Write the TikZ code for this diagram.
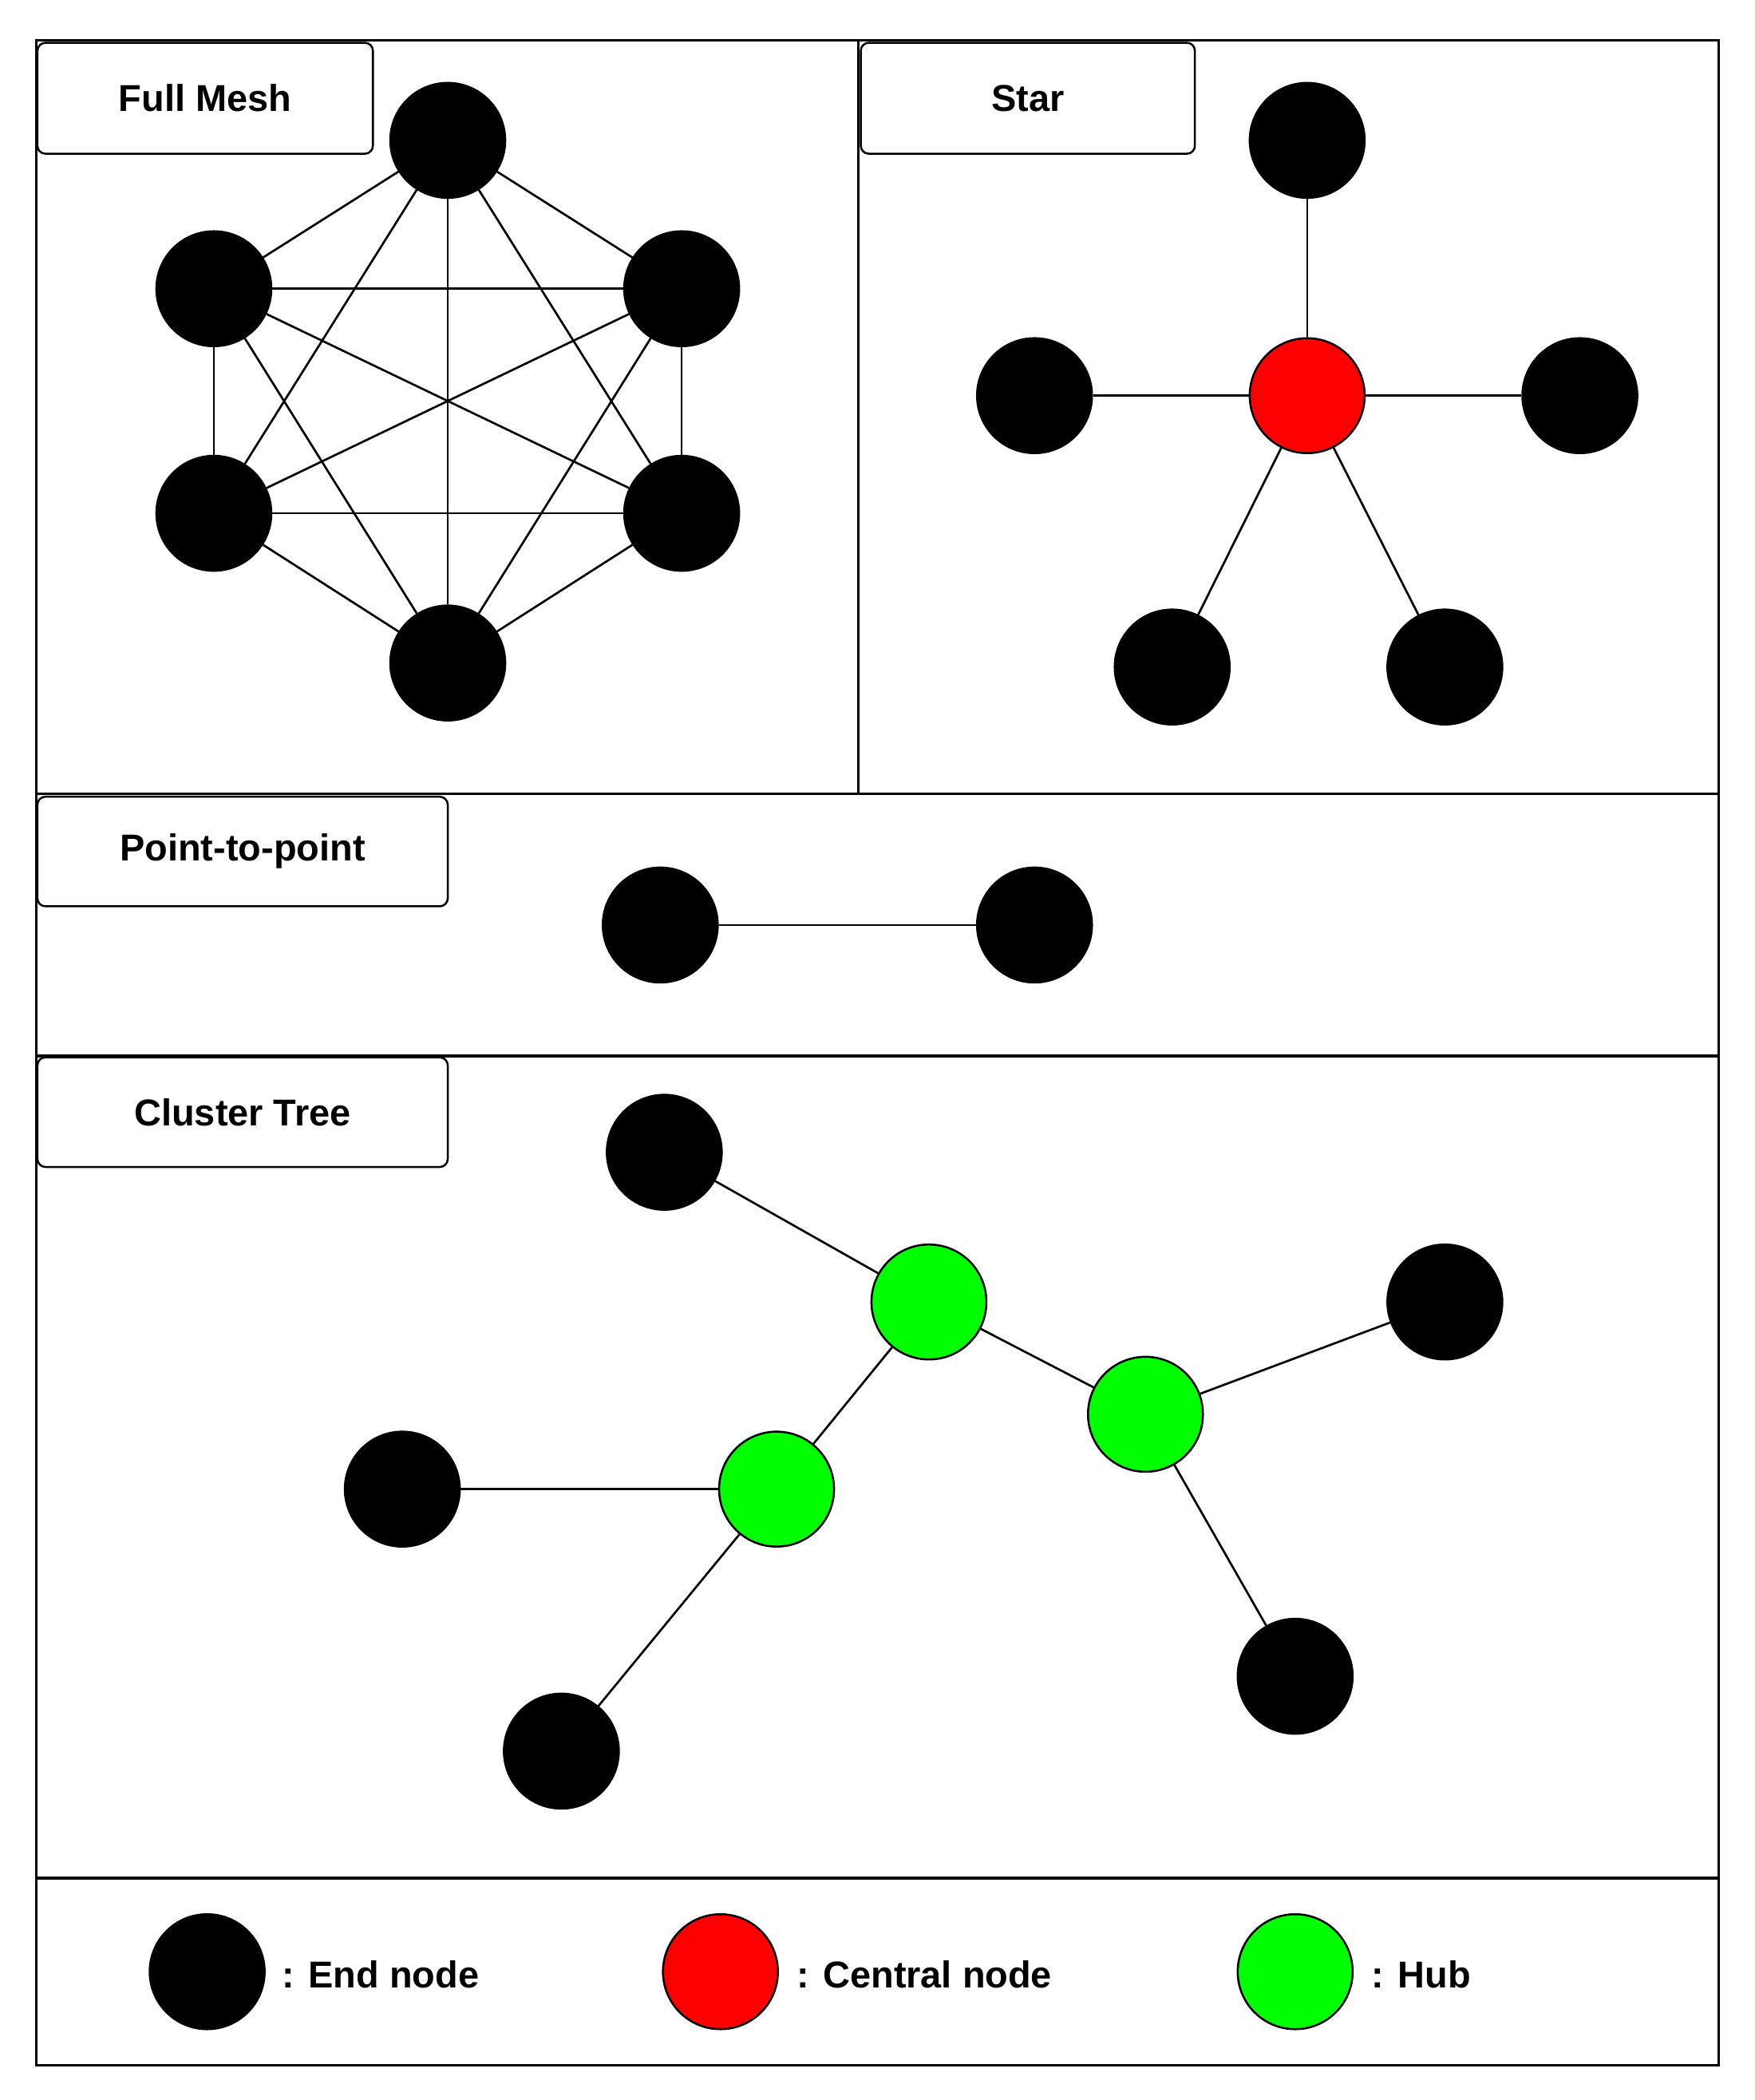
\documentclass[tikz,border=0pt]{standalone}
\usepackage{fontspec}
\setmainfont{Liberation Sans}
\begin{document}
\begin{tikzpicture}[x=1pt,y=-1pt,
 nd/.style={circle,draw=black,line width=1.5pt,minimum size=86pt,inner sep=0pt},
 en/.style={nd,fill=black},
 cn/.style={nd,fill=red},
 hb/.style={nd,fill=green},
 lbl/.style={draw,rounded corners=6pt,line width=1.5pt,fill=white,font=\fontsize{28}{32}\selectfont\bfseries,inner sep=0pt},
 ed/.style={line width=1.6pt},
 fr/.style={line width=2pt}]
\useasboundingbox (0,0) rectangle (1313,1571);
\draw[fr] (27,30) rectangle (1286,1545);
\draw[fr] (642,30) -- (642,594);
\draw[fr] (27,594) -- (1286,594);
\draw[fr] (27,790) -- (1286,790);
\draw[fr] (27,1405) -- (1286,1405);
% labels
\node[lbl,minimum width=251pt,minimum height=83pt] (l1) at (153.5,73.5) {Full Mesh};
\node[lbl,minimum width=250pt,minimum height=83pt] (l2) at (769,73.5) {Star};
\node[lbl,minimum width=307pt,minimum height=82pt] (l3) at (181.5,637) {Point-to-point};
\node[lbl,minimum width=307pt,minimum height=82pt] (l4) at (181.5,832) {Cluster Tree};
% mesh
\node[en] (m1) at (335,105) {};
\node[en] (m2) at (160,216) {};
\node[en] (m3) at (510,216) {};
\node[en] (m4) at (160,384) {};
\node[en] (m5) at (510,384) {};
\node[en] (m6) at (335,496) {};
\foreach \a/\b in {m1/m2,m1/m3,m1/m4,m1/m5,m1/m6,m2/m3,m2/m4,m2/m5,m2/m6,m3/m4,m3/m5,m3/m6,m4/m5,m4/m6,m5/m6}
  \draw[ed] (\a) -- (\b);
% star
\node[cn] (s0) at (978,296) {};
\node[en] (s1) at (978,105) {};
\node[en] (s2) at (774,296) {};
\node[en] (s3) at (1182,296) {};
\node[en] (s4) at (877,499) {};
\node[en] (s5) at (1081,499) {};
\foreach \b in {s1,s2,s3,s4,s5} \draw[ed] (s0) -- (\b);
% p2p
\node[en] (p1) at (494,692) {};
\node[en] (p2) at (774,692) {};
\draw[ed] (p1) -- (p2);
% cluster
\node[hb] (h1) at (695,974) {};
\node[hb] (h2) at (857,1058) {};
\node[hb] (h3) at (581,1114) {};
\node[en] (c1) at (497,862) {};
\node[en] (c2) at (1081,974) {};
\node[en] (c3) at (969,1254) {};
\node[en] (c4) at (301,1114) {};
\node[en] (c5) at (420,1310) {};
\foreach \a/\b in {h1/c1,h1/h2,h1/h3,h2/c2,h2/c3,h3/c4,h3/c5} \draw[ed] (\a) -- (\b);
% legend
\node[en] (k1) at (155,1475) {};
\node[cn] (k2) at (539,1475) {};
\node[hb] (k3) at (969,1475) {};
\node[anchor=west,font=\fontsize{28}{32}\selectfont\bfseries,inner sep=0pt] (t1) at (211,1477) {: End node};
\node[anchor=west,font=\fontsize{28}{32}\selectfont\bfseries,inner sep=0pt] (t2) at (596,1477) {: Central node};
\node[anchor=west,font=\fontsize{28}{32}\selectfont\bfseries,inner sep=0pt] (t3) at (1026,1477) {: Hub};
\end{tikzpicture}
\end{document}
